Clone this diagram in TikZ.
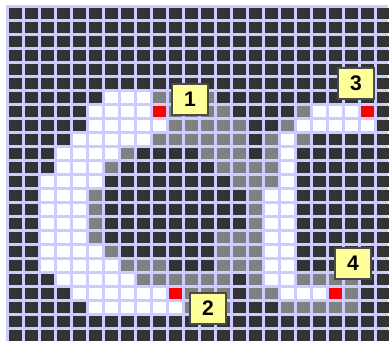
\documentclass[tikz,border=0pt]{standalone}
\usepackage{fontspec}
\setmainfont{Liberation Sans}
\usetikzlibrary{positioning}
\definecolor{gridLine}{HTML}{CCCCFF}
\definecolor{cellDark}{HTML}{333333}
\definecolor{cellGray}{HTML}{808080}
\definecolor{cellRed}{HTML}{FF0000}
\definecolor{tagFill}{HTML}{FFFF99}
\definecolor{tagEdge}{HTML}{4A4A4A}

\begin{document}
\begin{tikzpicture}[
  x=0.03cm, y=-0.03cm,
  darkcell/.style={fill=cellDark},
  freecell/.style={fill=white},
  seencell/.style={fill=cellGray},
  endcell/.style={fill=cellRed},
  tag/.style={rectangle, draw=tagEdge, line width=0.9pt, fill=tagFill, minimum width=1.08cm, minimum height=0.93cm, inner sep=0pt, font=\bfseries\fontsize{18}{18}\selectfont}
]
\useasboundingbox (0,0) rectangle (389,342);
\fill[gridLine] (6,5) rectangle (388,341);
% background cells
\foreach \r in {0,...,23}
  \foreach \c in {0,...,23}
    \fill[darkcell] ({8.5+16*\c},{8+14*\r}) rectangle ++(13,11);
% white track (row/first/last)
\foreach \r/\a/\b in {6/6/8, 7/5/8, 7/19/21, 8/5/9, 8/18/22, 9/4/8, 9/17/17,
    10/3/6, 10/17/17, 11/3/5, 11/17/17, 12/2/5, 12/17/17, 13/2/4, 13/16/17,
    14/2/4, 14/16/17, 15/2/4, 15/16/17, 16/2/4, 16/16/17, 17/2/5, 17/16/17,
    18/2/6, 18/16/17, 19/3/7, 19/16/17, 20/4/9, 20/17/19, 21/5/10}
  \foreach \c in {\a,...,\b}
    \fill[freecell] ({8.5+16*\c},{8+14*\r}) rectangle ++(13,11);
% gray cells
\foreach \r/\a/\b in {6/9/12, 7/10/13, 7/18/18, 8/10/14, 8/17/17, 9/9/14, 9/16/16, 9/18/18,
    10/7/7, 10/12/14, 10/16/16, 11/6/6, 11/13/16, 12/14/16, 13/5/5, 13/15/15,
    14/5/5, 14/15/15, 15/5/5, 15/15/15, 16/5/5, 16/13/15, 17/6/6, 17/13/15,
    18/7/9, 18/13/15, 19/8/13, 19/15/15, 19/18/21, 20/11/13, 20/15/16, 20/21/21,
    21/11/13, 21/17/21}
  \foreach \c in {\a,...,\b}
    \fill[seencell] ({8.5+16*\c},{8+14*\r}) rectangle ++(13,11);
% end points
\foreach \r/\c in {7/9, 7/22, 20/10, 20/20}
  \fill[endcell] ({8.5+16*\c},{8+14*\r}) rectangle ++(13,11);
% labels
\node[tag] (one) at (190,99.5) {1};
\node[tag] (two) at (208,308.5) {2};
\node[tag] (three) at (356,83.5) {3};
\node[tag] (four) at (353,263.5) {4};
\end{tikzpicture}
\end{document}
